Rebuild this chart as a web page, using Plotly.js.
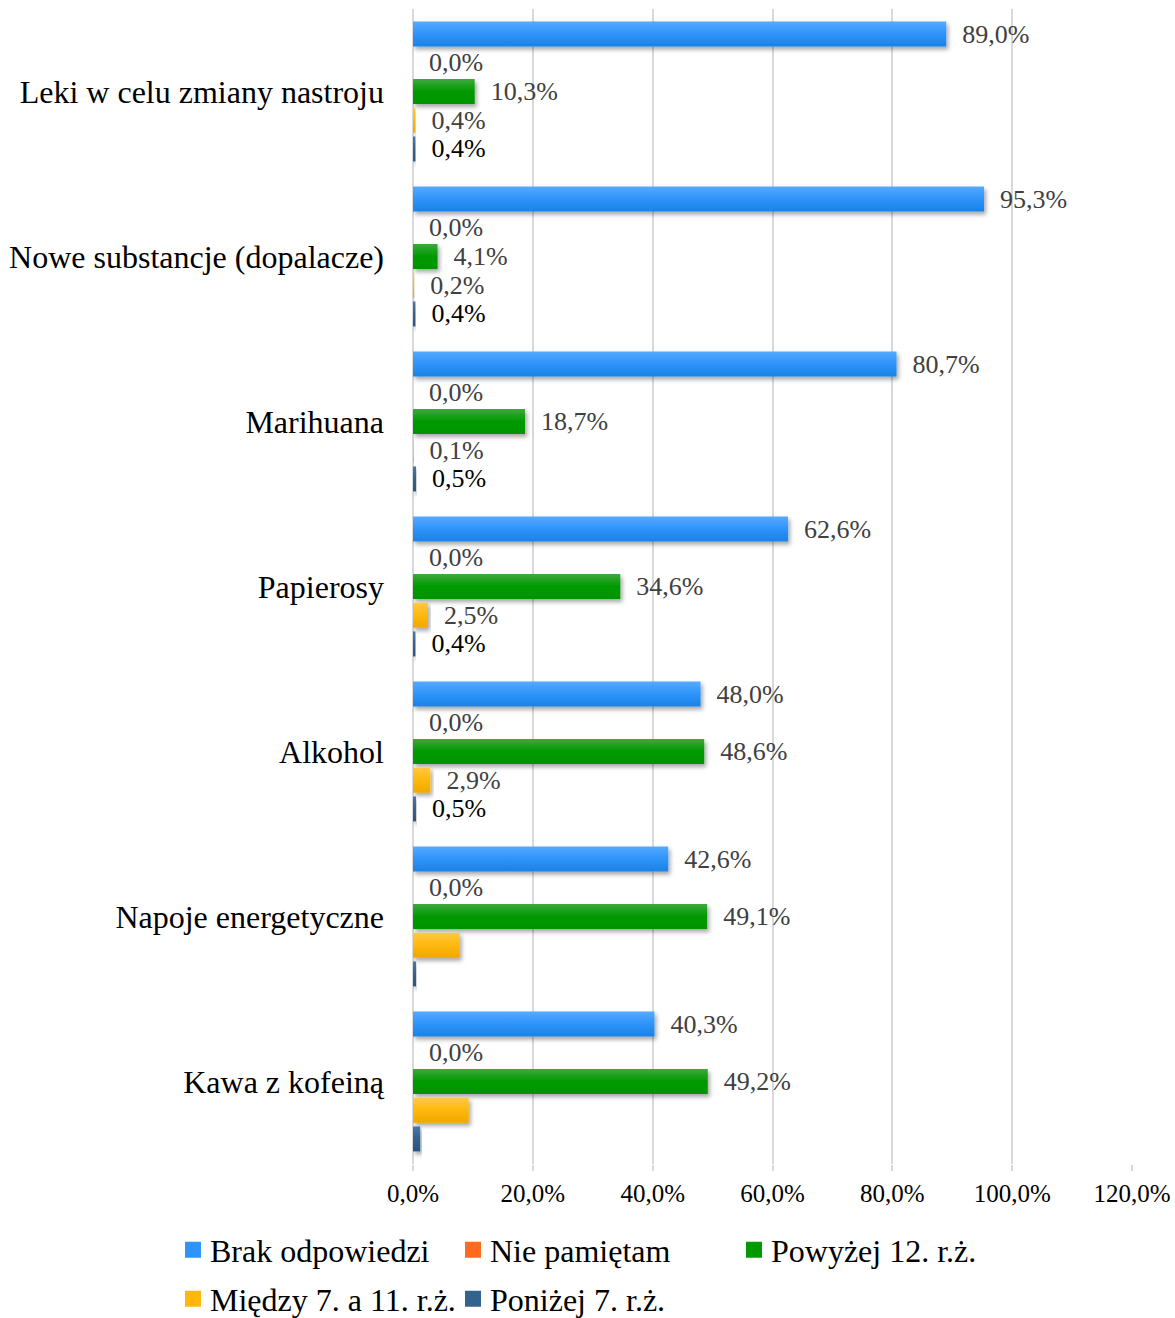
<!DOCTYPE html>
<html>
<head>
<meta charset="utf-8">
<script src="https://cdn.plot.ly/plotly-3.0.1.min.js"></script>
<style>
html,body{margin:0;padding:0;background:#fff;}
#chart{width:1175px;height:1318px;}
</style>
</head>
<body>
<div id="chart"></div>
<script>
const categories = ['Leki w celu zmiany nastroju','Nowe substancje (dopalacze)','Marihuana','Papierosy','Alkohol','Napoje energetyczne','Kawa z kofeiną'];
const seriesNames = ['Brak odpowiedzi','Nie pamiętam','Powyżej 12. r.ż.','Między 7. a 11. r.ż.','Poniżej 7. r.ż.'];
const brak    = [89.0, 95.3, 80.7, 62.6, 48.0, 42.6, 40.3];
const niePam  = [0.0, 0.0, 0.0, 0.0, 0.0, 0.0, 0.0];
const powyzej = [10.3, 4.1, 18.7, 34.6, 48.6, 49.1, 49.2];
const miedzy  = [0.4, 0.2, 0.1, 2.5, 2.9, 7.8, 9.3];
const ponizej = [0.4, 0.4, 0.5, 0.4, 0.5, 0.5, 1.2];
// whether a data label is shown for each bar
const showMiedzy  = [true, true, true, true, true, false, false];
const showPonizej = [true, true, true, true, true, false, false];
const xTicks = [0, 20, 40, 60, 80, 100, 120];
const xTickText = xTicks.map(v => v.toFixed(1).replace('.', ',') + '%');

const colors = ['#2E93FA', '#FF6A1C', '#009A00', '#FFB80A', '#33628F'];
const gradTop = ['#55AAFF', '#FF8A4A', '#3FA83F', '#FFC844', '#4A78A6'];
const gradBot = ['#1A82E6', '#EE5A10', '#009400', '#F0A800', '#2A5580'];
const labelColors = ['#404040', '#404040', '#404040', '#404040', '#000000'];

// legend placement per series: [left px of legend box, centre y px]
const legendPos = [[170, 1250], [450, 1250], [731, 1250], [170, 1299], [450, 1299]];

const fmt = v => '\u00a0\u00a0' + v.toFixed(1).replace('.', ',') + '%';
const values = [brak, niePam, powyzej, miedzy, ponizej];
const shows = [null, null, null, showMiedzy, showPonizej];
const legendIds = ['legend', 'legend2', 'legend3', 'legend4', 'legend5'];

const traces = values.map((vals, i) => ({
  type: 'bar',
  orientation: 'h',
  name: seriesNames[i],
  y: categories,
  x: vals,
  text: vals.map((v, j) => (shows[i] && !shows[i][j]) ? '' : fmt(v)),
  textposition: 'outside',
  textfont: {family: 'Liberation Serif', size: 26, color: labelColors[i]},
  constraintext: 'none',
  cliponaxis: false,
  marker: {color: colors[i]},
  hoverinfo: 'x+y+name',
  legend: legendIds[i]
}));

const layout = {
  width: 1175, height: 1318,
  margin: {l: 413, r: 43, t: 9, b: 154},
  paper_bgcolor: '#fff', plot_bgcolor: '#fff',
  barmode: 'group',
  bargap: 0.13,
  bargroupgap: 0.13,
  separators: ', ',
  showlegend: true,
  font: {family: 'Liberation Serif', color: '#000'},
  xaxis: {
    range: [0, 120],
    tickmode: 'array',
    tickvals: xTicks,
    ticktext: xTickText,
    showgrid: true, gridcolor: '#D9D9D9', gridwidth: 2,
    zeroline: true, zerolinecolor: '#D9D9D9', zerolinewidth: 2,
    showline: false,
    ticks: 'outside', ticklen: 6, tickcolor: '#D9D9D9', tickwidth: 2,
    ticklabelstandoff: 1,
    tickfont: {family: 'Liberation Serif', size: 25, color: '#000'},
    fixedrange: true
  },
  yaxis: {
    autorange: 'reversed',
    type: 'category',
    showgrid: false, zeroline: false, showline: false,
    ticks: '',
    ticklabelstandoff: 28,
    tickfont: {family: 'Liberation Serif', size: 32, color: '#000'},
    fixedrange: true
  }
};
legendIds.forEach((id, i) => {
  layout[id] = {
    orientation: 'h',
    xref: 'container', yref: 'container',
    xanchor: 'left', yanchor: 'middle',
    x: legendPos[i][0] / 1175, y: 1 - legendPos[i][1] / 1318,
    font: {family: 'Liberation Serif', size: 32, color: '#000'},
    bgcolor: 'rgba(0,0,0,0)'
  };
});

Plotly.newPlot('chart', traces, layout, {displayModeBar: false, staticPlot: true}).then(gd => {
  const svg = gd.querySelector('.main-svg');
  const ns = 'http://www.w3.org/2000/svg';
  let defs = svg.querySelector('defs');
  if (!defs) { defs = document.createElementNS(ns, 'defs'); svg.insertBefore(defs, svg.firstChild); }
  const filt = document.createElementNS(ns, 'filter');
  filt.setAttribute('id', 'barShadow');
  filt.setAttribute('x', '-10%'); filt.setAttribute('y', '-30%');
  filt.setAttribute('width', '130%'); filt.setAttribute('height', '180%');
  const ds = document.createElementNS(ns, 'feDropShadow');
  ds.setAttribute('dx', '2'); ds.setAttribute('dy', '3');
  ds.setAttribute('stdDeviation', '2');
  ds.setAttribute('flood-color', '#000'); ds.setAttribute('flood-opacity', '0.35');
  filt.appendChild(ds);
  defs.appendChild(filt);
  colors.forEach((c, i) => {
    const lg = document.createElementNS(ns, 'linearGradient');
    lg.setAttribute('id', 'barGrad' + i);
    lg.setAttribute('x1', '0'); lg.setAttribute('y1', '0');
    lg.setAttribute('x2', '0'); lg.setAttribute('y2', '1');
    [[0, gradTop[i]], [0.5, c], [1, gradBot[i]]].forEach(([o, col]) => {
      const st = document.createElementNS(ns, 'stop');
      st.setAttribute('offset', o); st.setAttribute('stop-color', col);
      lg.appendChild(st);
    });
    defs.appendChild(lg);
  });
  gd.querySelectorAll('.barlayer .trace.bars').forEach((tr, i) => {
    tr.querySelectorAll('.point path').forEach(p => {
      p.style.fill = 'url(#barGrad' + i + ')';
      p.setAttribute('filter', 'url(#barShadow)');
    });
  });
  gd.querySelectorAll('.legendpoints path').forEach(p => {
    p.setAttribute('transform', 'translate(23,0) scale(1.33)');
  });
});
</script>
</body>
</html>
